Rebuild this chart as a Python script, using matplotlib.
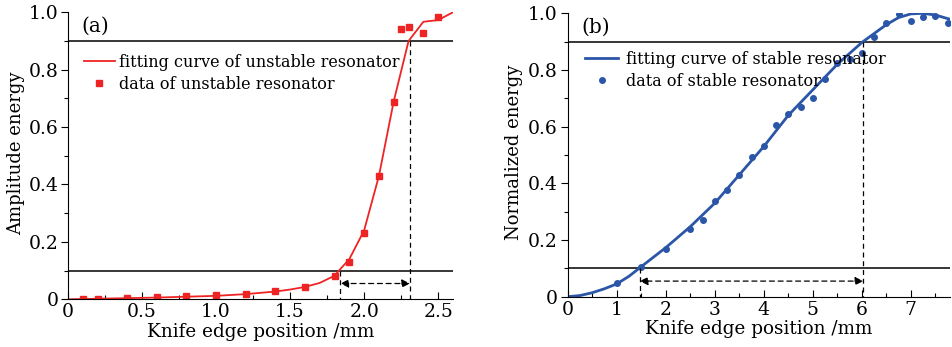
import matplotlib
matplotlib.use("Agg")
import matplotlib.pyplot as plt
from matplotlib.ticker import MultipleLocator

plt.rcParams['font.family'] = ['DejaVu Serif']
plt.rcParams['mathtext.fontset'] = 'dejavuserif'

# panel (a): unstable resonator
a_data_x = [0.1, 0.2, 0.4, 0.6, 0.8, 1.0, 1.2, 1.4, 1.6, 1.8, 1.9, 2.0, 2.1, 2.2, 2.25, 2.3, 2.4, 2.5]
a_data_y = [0.0, 0.002, 0.006, 0.008, 0.010, 0.015, 0.020, 0.028, 0.044, 0.082, 0.131, 0.230, 0.431, 0.686, 0.942, 0.948, 0.927, 0.983]
a_fit_x = [0, 0.2, 0.4, 0.6, 0.8, 1.0, 1.2, 1.4, 1.5, 1.6, 1.7, 1.8, 1.83, 1.9, 2.0, 2.1, 2.15, 2.2, 2.3, 2.4, 2.5, 2.6]
a_fit_y = [0.0, 0.002, 0.004, 0.006, 0.009, 0.012, 0.018, 0.027, 0.034, 0.043, 0.057, 0.082, 0.1, 0.14, 0.24, 0.43, 0.56, 0.69, 0.9, 0.967, 0.973, 1.0]
a_lo, a_hi = 1.84, 2.31

# panel (b): stable resonator
b_data_x = [1.0, 1.5, 2.0, 2.5, 2.75, 3.0, 3.25, 3.5, 3.75, 4.0, 4.25, 4.5, 4.75, 5.0, 5.25, 5.5,
            5.75, 6.0, 6.25, 6.5, 6.75, 7.0, 7.25, 7.5, 7.75]
b_data_y = [0.049, 0.106, 0.169, 0.238, 0.271, 0.339, 0.376, 0.431, 0.494, 0.532, 0.607, 0.645, 0.671, 0.70, 0.767, 0.825,
            0.838, 0.861, 0.918, 0.967, 0.998, 0.973, 0.988, 0.992, 0.965]
b_fit_x = [0, 0.25, 0.5, 0.75, 1.0, 1.25, 1.5, 2.0, 2.5, 3.0, 3.5, 4.0, 4.5, 5.0, 5.5, 6.0, 6.5, 6.75, 7.0, 7.25, 7.5, 7.8]
b_fit_y = [0.0, 0.004, 0.014, 0.028, 0.045, 0.072, 0.106, 0.173, 0.247, 0.33, 0.43, 0.53, 0.64, 0.73, 0.82, 0.897, 0.96, 0.985, 0.998, 1.0, 0.994, 0.979]
b_lo, b_hi = 1.47, 6.03

red = '#ee2424'
blue = '#2b56a8'

fig = plt.figure(figsize=(9.53, 3.47), dpi=100)
ax1 = fig.add_axes([0.0714, 0.1375, 0.4039, 0.827])
ax2 = fig.add_axes([0.5957, 0.145, 0.4012, 0.8166])


def style(ax, xmax, xmaj, xmin):
    ax.set_xlim(0, xmax)
    ax.set_ylim(0, 1.0)
    for s in ['top', 'right']:
        ax.spines[s].set_visible(False)
    ax.xaxis.set_major_locator(MultipleLocator(xmaj))
    ax.xaxis.set_minor_locator(MultipleLocator(xmin))
    ax.yaxis.set_major_locator(MultipleLocator(0.2))
    ax.yaxis.set_minor_locator(MultipleLocator(0.1))
    ax.tick_params(axis='y', which='both', direction='out', labelsize=13.5, width=0.8, pad=2)
    ax.tick_params(axis='y', which='major', length=5)
    ax.tick_params(axis='y', which='minor', length=3)
    ax.tick_params(axis='x', which='both', direction='in', labelsize=13.5, width=0.8, pad=3)
    ax.tick_params(axis='x', which='major', length=5)
    ax.tick_params(axis='x', which='minor', length=3)
    ax.yaxis.set_major_formatter(plt.FuncFormatter(lambda v, p: '0' if v == 0 else f'{v:.1f}'))
    ax.set_xlabel('Knife edge position /mm', fontsize=13.2, labelpad=1)
    ax.axhline(0.9, color='black', lw=1.1)
    ax.axhline(0.1, color='black', lw=1.1)


def marks(ax, lo, hi):
    ax.plot([lo, lo], [0.1, 0], ls=(0, (4, 3)), color='black', lw=0.9)
    ax.plot([hi, hi], [0.9, 0], ls=(0, (4, 3)), color='black', lw=0.9)
    ax.annotate('', xy=(lo, 0.055), xytext=(hi, 0.055),
                arrowprops=dict(arrowstyle='<|-|>', ls=(0, (4, 3)), color='black', lw=0.9,
                                mutation_scale=12, shrinkA=0, shrinkB=0))


style(ax1, 2.6, 0.5, 0.25)
ax1.xaxis.set_major_formatter(plt.FuncFormatter(lambda v, p: '0' if v == 0 else f'{v:.1f}'))
ax1.plot(a_fit_x, a_fit_y, color=red, lw=1.3, label='fitting curve of unstable resonator')
ax1.plot(a_data_x, a_data_y, 's', color=red, ms=4.5, label='data of unstable resonator')
marks(ax1, a_lo, a_hi)
ax1.set_ylabel('Amplitude energy', fontsize=13)
ax1.yaxis.set_label_coords(-0.112, 0.51)
ax1.text(0.09, 0.95, '(a)', fontsize=14.5, ha='left', va='center')
ax1.legend(loc='upper left', bbox_to_anchor=(0.042, 0.855), frameon=False, fontsize=11.5,
           handlelength=1.9, handletextpad=0.25, labelspacing=0.3, borderaxespad=0, borderpad=0)

style(ax2, 7.8, 1, 0.5)
ax2.xaxis.set_major_formatter(plt.FuncFormatter(lambda v, p: f'{v:.0f}'))
ax2.plot(b_fit_x, b_fit_y, color=blue, lw=2.0, label='fitting curve of stable resonator')
ax2.plot(b_data_x, b_data_y, 'o', color=blue, ms=4, label='data of stable resonator')
marks(ax2, b_lo, b_hi)
ax2.set_ylabel('Normalized energy', fontsize=13)
ax2.yaxis.set_label_coords(-0.117, 0.51)
ax2.text(0.27, 0.95, '(b)', fontsize=14.5, ha='left', va='center')
ax2.legend(loc='upper left', bbox_to_anchor=(0.045, 0.867), frameon=False, fontsize=11.5,
           handlelength=2.1, handletextpad=0.5, labelspacing=0.3, borderaxespad=0, borderpad=0)

fig.savefig('out.png', dpi=100, facecolor='white')
